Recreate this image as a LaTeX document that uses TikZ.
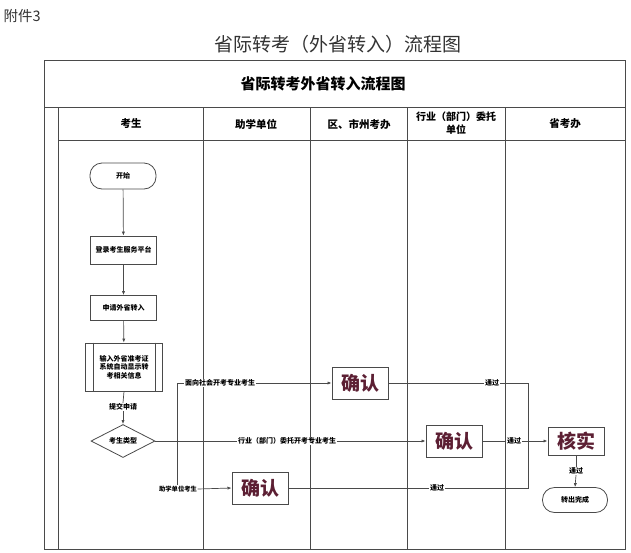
\documentclass[tikz,border=0pt]{standalone}
\usepackage{fontspec}
\setmainfont{Noto Sans CJK SC}
\usetikzlibrary{arrows.meta,shapes.geometric}
\definecolor{ln}{HTML}{4A4A4A}
\definecolor{qc}{HTML}{5C1F33}
\definecolor{tt}{HTML}{333333}
\tikzset{
  frame/.style={draw=ln,line width=0.9pt},
  conn/.style={draw=ln,line width=0.7pt},
  arr/.style={conn,-{Latex[length=4pt,width=3.2pt]}},
  sm/.style={font=\fontsize{7}{8.5}\selectfont\bfseries,text=black},
  lbl/.style={sm,fill=white,inner sep=0.6pt},
  term/.style={draw=ln,line width=0.8pt,rounded corners=12pt,sm,inner sep=0pt},
  stepbox/.style={draw=ln,line width=0.8pt,sm,inner sep=0pt},
  qbox/.style={draw=ln,line width=1pt,inner sep=0pt,minimum width=56pt,minimum height=32pt,
     font=\fontsize{19}{20}\selectfont\bfseries,text=qc},
  hdr/.style={font=\fontsize{10.5}{12}\selectfont\bfseries,align=center,text=black},
}
\begin{document}
\begin{tikzpicture}[x=1pt,y=-1pt]
\useasboundingbox (0,0) rectangle (631,552);
% page texts
\node[anchor=west,font=\fontsize{14.5}{16}\selectfont,text=tt] (att) at (0,16) {附件3};
\node[font=\fontsize{19}{22}\selectfont,text=tt] (title) at (338,44) {省际转考（外省转入）流程图};
% frame
\draw[frame] (44,60) rectangle (625,549);
\draw[frame] (44,107) -- (625,107);
\draw[frame] (58,107) -- (58,549);
\draw[frame] (58,140) -- (625,140);
\foreach \x in {203,310,407,505} \draw[frame] (\x,107) -- (\x,549);
\node[font=\fontsize{15}{17}\selectfont\bfseries] (ftitle) at (323,84) {省际转考外省转入流程图};
\node[hdr] (h1) at (131,124) {考生};
\node[hdr] (h2) at (256,124) {助学单位};
\node[hdr] (h3) at (359,124) {区、市州考办};
\node[hdr,font=\fontsize{10}{12.5}\selectfont\bfseries] (h4) at (456,123) {行业（部门）委托\\单位};
\node[hdr] (h5) at (565,124) {省考办};
% student column
\node[term,minimum width=66pt,minimum height=26pt] (st) at (123,176) {开始};
\node[stepbox,minimum width=66pt,minimum height=28pt] (login) at (123.5,250) {登录考生服务平台};
\node[stepbox,minimum width=66pt,minimum height=25pt] (apply) at (123.5,308) {申请外省转入};
\node[stepbox,minimum width=77pt,minimum height=48pt,align=center] (pp) at (124,367) {输入外省准考证\\系统自动显示转\\考相关信息};
\draw[ln,line width=0.8pt] ([xshift=8pt]pp.north west) -- ([xshift=8pt]pp.south west);
\draw[ln,line width=0.8pt] ([xshift=-8pt]pp.north east) -- ([xshift=-8pt]pp.south east);
\node[lbl] (tj) at (123,407) {提交申请};
\node[diamond,draw=ln,line width=0.8pt,sm,inner sep=0pt,minimum width=64pt,minimum height=33pt,aspect=2] (d) at (123,441) {考生类型};
\draw[arr] (st) -- (login);
\draw[arr] (login) -- (apply);
\draw[arr] (apply) -- (pp);
\draw[conn] (pp.south) -- (tj.north);
\draw[arr] (tj.south) -- (d.north);
% confirm boxes
\node[qbox] (qz) at (260,488) {确认};
\node[qbox] (qr) at (360,383) {确认};
\node[qbox] (qh) at (454,441) {确认};
\node[qbox,minimum height=28pt] (hs) at (576,441) {核实};
\node[term,minimum width=65pt,minimum height=25pt] (fin) at (575,500) {转出完成};
% branches
\coordinate (j) at (177,441);
\node[lbl] (lA) at (220,383) {面向社会开考专业考生};
\node[lbl] (lB) at (287,441) {行业（部门）委托开考专业考生};
\node[lbl,font=\fontsize{6.3}{7.5}\selectfont\bfseries] (lC) at (178,489) {助学单位考生};
\draw[conn] (d.east) -- (lB.west);
\draw[arr] (lB.east) -- (qh.west);
\draw[conn] (j) |- (lA.west);
\draw[arr] (lA.east) -- (qr.west);
\draw[conn] (j) -- (j |- lC.north);
\draw[arr] (lC.east) -- (qz.west);
% pass lines
\coordinate (k) at (528,441);
\node[lbl] (p1) at (492,383) {通过};
\node[lbl] (p2) at (514,441) {通过};
\node[lbl] (p3) at (437,488) {通过};
\node[lbl] (p4) at (576,471) {通过};
\draw[conn] (qr.east) -- (p1.west);
\draw[conn] (p1.east) -| (k);
\draw[conn] (qz.east) -- (p3.west);
\draw[conn] (p3.east) -| (k);
\draw[conn] (qh.east) -- (p2.west);
\draw[arr,line width=1pt] (p2.east) -- (hs.west);
\draw[conn] (hs.south) -- (p4.north);
\draw[arr] (p4.south) -- (fin.north);
\end{tikzpicture}
\end{document}
